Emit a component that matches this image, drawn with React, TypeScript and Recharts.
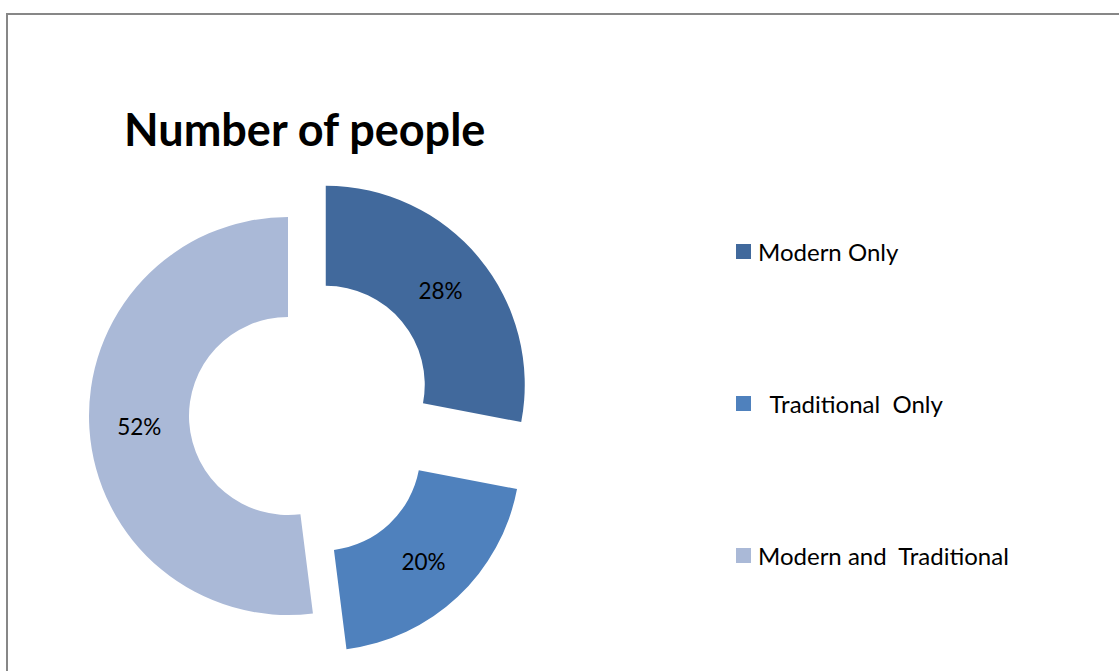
import React from "react";
import { PieChart, Pie, Cell, Legend } from "recharts";

// Exploded donut: "Number of people"

const categories = ["Modern Only", "  Traditional  Only", "Modern and  Traditional"];
const shares = [28, 20, 52];
const explode = [49, 49, 0];
const colors = ["#41699C", "#4F81BD", "#AAB9D7"];

const data = categories.map((name, i) => ({ name, value: shares[i] }));

const RADIAN = Math.PI / 180;
const CX = 288;
const CY = 416;
const OUTER = 199;
const INNER = 99;
const FONT = "Lato, 'Open Sans', sans-serif";

const total = shares.reduce((a, b) => a + b, 0);
const midAngles = shares.map((v, i) => {
  const before = shares.slice(0, i).reduce((a, b) => a + b, 0);
  return 90 - (360 * (before + v / 2)) / total;
});

function makeLabel(visible: number) {
  return (props: any) => {
    if (props.index !== visible) return null;
    const { cx, cy, midAngle, innerRadius, outerRadius, percent } = props;
    const r = (innerRadius + outerRadius) / 2;
    const x = cx + r * Math.cos(-midAngle * RADIAN);
    const y = cy + r * Math.sin(-midAngle * RADIAN);
    return (
      <text
        x={x}
        y={y + 1}
        fill="#000"
        textAnchor="middle"
        dominantBaseline="central"
        fontFamily={FONT}
        fontSize={22.5}
      >
        {`${Math.round(percent * 100)}%`}
      </text>
    );
  };
}

function LegendBox() {
  return (
    <div style={{ fontFamily: FONT, fontSize: 24, color: "#000" }}>
      {categories.map((name, i) => (
        <div
          key={name}
          style={{ display: "flex", alignItems: "center", height: 24, marginBottom: i < 2 ? 128 : 0 }}
        >
          <span style={{ width: 15, height: 15, background: colors[i], marginRight: 7, display: "inline-block" }} />
          <span style={{ whiteSpace: "pre" }}>{name}</span>
        </div>
      ))}
    </div>
  );
}

export default function App() {
  return (
    <div style={{ position: "absolute", left: 0, top: 0, width: 1119, height: 671, overflow: "hidden", background: "#fff" }}>
      <div
        style={{
          position: "absolute",
          left: 6,
          top: 13,
          width: 1200,
          height: 700,
          borderLeft: "2px solid #878787",
          borderTop: "2px solid #878787",
        }}
      />
      <div
        style={{
          position: "absolute",
          left: 124,
          top: 102,
          fontFamily: FONT,
          fontWeight: 700,
          fontSize: 45,
          lineHeight: "54px",
          color: "#000",
          whiteSpace: "nowrap",
        }}
      >
        Number of people
      </div>
      <div style={{ position: "absolute", left: 0, top: 0 }}>
        <PieChart width={1119} height={671} margin={{ top: 0, right: 0, bottom: 0, left: 0 }}>
          {categories.map((_, k) => (
            <Pie
              key={k}
              data={data}
              dataKey="value"
              nameKey="name"
              cx={CX + explode[k] * Math.cos(midAngles[k] * RADIAN)}
              cy={CY - explode[k] * Math.sin(midAngles[k] * RADIAN)}
              innerRadius={INNER}
              outerRadius={OUTER}
              startAngle={90}
              endAngle={-270}
              stroke="none"
              label={makeLabel(k)}
              labelLine={false}
              legendType="none"
              isAnimationActive={false}
            >
              {data.map((d, i) => (
                <Cell key={d.name} fill={i === k ? colors[i] : "none"} stroke="none" />
              ))}
            </Pie>
          ))}
          <Legend
            layout="vertical"
            align="right"
            verticalAlign="top"
            content={() => <LegendBox />}
            wrapperStyle={{ left: 736, top: 239, width: 370 }}
          />
        </PieChart>
      </div>
    </div>
  );
}
